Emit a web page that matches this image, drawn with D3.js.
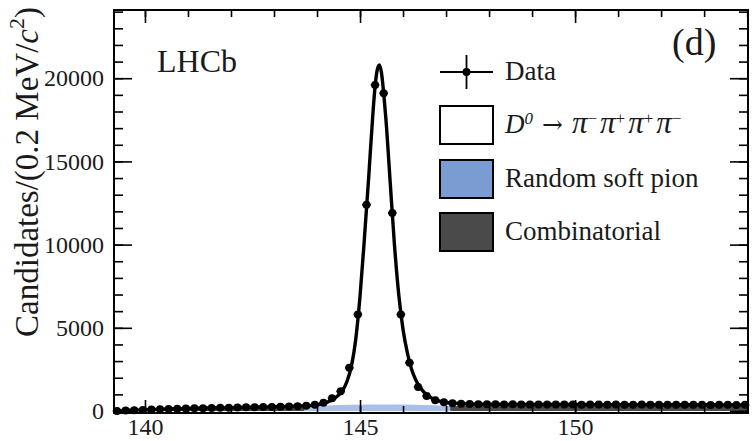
<!DOCTYPE html>
<html>
<head>
<meta charset="utf-8">
<script src="https://cdn.jsdelivr.net/npm/d3@7"></script>
<style>
  html, body { margin: 0; padding: 0; background: #fff; }
  svg { display: block; }
  text { font-family: "Liberation Serif", "Times New Roman", serif; fill: #1a1a1a; }
</style>
</head>
<body>
<svg id="chart" width="755" height="441"></svg>
<script>
// Delta-m histogram: bins of 0.2 MeV/c^2 starting at 139.25
const binStart = 139.25;
const binWidth = 0.2;
const dataCounts = [
  5, 25, 45, 65, 85, 100, 115, 130, 145, 160,
  170, 180, 190, 200, 210, 220, 228, 236, 245, 255,
  270, 290, 320, 380, 490, 760, 1180, 2600, 5800, 12400,
  19600, 19100, 11900, 5800, 2900, 1450, 900, 640, 520, 460,
  430, 420, 410, 405, 400, 395, 400, 390, 395, 385,
  390, 395, 385, 390, 380, 385, 390, 380, 385, 375,
  380, 385, 375, 380, 370, 380, 375, 370, 375, 365,
  375, 370, 365, 370
];

// Total fit model (white signal area outlined in black)
const fitMass = [139.28, 139.4, 139.6, 140, 140.5, 141, 141.5, 142, 142.5, 143, 143.5, 143.8,
  144.0, 144.2, 144.4, 144.6, 144.7, 144.8, 144.9, 145.0, 145.1, 145.2, 145.3, 145.35, 145.4,
  145.45, 145.5, 145.55, 145.6, 145.7, 145.8, 145.9, 146.0, 146.1, 146.2, 146.3, 146.4, 146.6,
  146.8, 147.0, 147.3, 147.6, 148, 149, 150, 151, 152, 153, 154.02];
const fitTotal = [0, 15, 45, 75, 120, 155, 185, 205, 230, 255, 290, 320,
  370, 490, 750, 1250, 1800, 2700, 4300, 6900, 10300, 14000, 17900, 19500, 20500,
  20800, 20300, 19100, 17600, 13800, 10000, 7000, 4900, 3500, 2500, 1850, 1400, 880,
  630, 510, 450, 425, 405, 395, 388, 382, 377, 372, 368];

// Combinatorial background component
const combMass = [139.28, 139.4, 139.6, 140, 140.5, 141, 142, 143, 144, 145, 146, 147, 148, 150, 152, 154.02];
const combYield = [0, 10, 35, 60, 95, 125, 165, 200, 230, 255, 275, 290, 300, 305, 305, 300];

// Random soft pion component (drawn up to the stacked total)
const rspMass = [143.7, 144.0, 144.5, 145.0, 145.4, 146.0, 146.5, 146.9, 147.1];
const rspStackTop = [230, 300, 360, 380, 390, 390, 360, 320, 290];

const xTicksMajor = [140, 145, 150];
const yTicksMajor = [0, 5000, 10000, 15000, 20000];

const legendItems = ["Data", "D0", "Random soft pion", "Combinatorial"];

const svg = d3.select("#chart");
const plotL = 114, plotR = 748, plotT = 10, plotB = 413;

const x = d3.scaleLinear().domain([139.28, 154.02]).range([plotL, plotR]);
const y = d3.scaleLinear().domain([-120, 24100]).range([plotB, plotT]);

const binCenters = dataCounts.map((_, i) => binStart + binWidth * (i + 0.5));

// Total fit: white area with black outline
const fitPts = fitMass.map((m, i) => [m, fitTotal[i]]);
svg.append("path")
  .datum(fitPts)
  .attr("fill", "#ffffff")
  .attr("d", d3.area().x(d => x(d[0])).y0(y(0)).y1(d => y(d[1])).curve(d3.curveMonotoneX));

// Combinatorial
svg.append("path")
  .datum(combMass.map((m, i) => [m, combYield[i]]))
  .attr("fill", "#4a4a4a")
  .attr("d", d3.area().x(d => x(d[0])).y0(y(0)).y1(d => y(d[1])).curve(d3.curveMonotoneX));

// Random soft pion
svg.append("path")
  .datum(rspMass.map((m, i) => [m, rspStackTop[i]]))
  .attr("fill", "#a9bfe8")
  .attr("d", d3.area().x(d => x(d[0])).y0(y(0)).y1(d => y(d[1])).curve(d3.curveMonotoneX));

// Fit line
svg.append("path")
  .datum(fitPts)
  .attr("fill", "none")
  .attr("stroke", "#000")
  .attr("stroke-width", 3.4)
  .attr("stroke-linejoin", "round")
  .attr("d", d3.line().x(d => x(d[0])).y(d => y(d[1])).curve(d3.curveMonotoneX));

// Data points with error bars
const dataG = svg.append("g");
dataCounts.forEach((n, i) => {
  const c = binCenters[i];
  const err = Math.sqrt(n);
  dataG.append("line")
    .attr("x1", x(c - binWidth / 2)).attr("x2", x(c + binWidth / 2))
    .attr("y1", y(n)).attr("y2", y(n))
    .attr("stroke", "#000").attr("stroke-width", 1.8);
  dataG.append("line")
    .attr("x1", x(c)).attr("x2", x(c))
    .attr("y1", y(n - err)).attr("y2", y(n + err))
    .attr("stroke", "#000").attr("stroke-width", 1.8);
  dataG.append("circle")
    .attr("cx", x(c)).attr("cy", y(n)).attr("r", 4)
    .attr("fill", "#000");
});

// Axes: ticks pointing inwards on all four sides
const fontSize = 24;
const xMinor = d3.range(140, 155, 1);
const yMinor = d3.range(0, 24001, 1000);

function styleAxis(g) {
  g.select(".domain").remove();
  g.selectAll(".tick line").attr("stroke", "#000").attr("stroke-width", 1.6);
  g.selectAll(".tick text")
    .style("font-family", '"Liberation Serif", "Times New Roman", serif')
    .style("font-size", fontSize + "px")
    .attr("fill", "#1a1a1a");
}

svg.append("g").attr("transform", `translate(0,${plotB})`)
  .call(d3.axisBottom(x).tickValues(xMinor).tickSize(-7).tickFormat(""))
  .call(styleAxis);
svg.append("g").attr("transform", `translate(0,${plotB})`)
  .call(d3.axisBottom(x).tickValues(xTicksMajor).tickSize(-13).tickPadding(5).tickFormat(d3.format("d")))
  .call(styleAxis);
svg.append("g").attr("transform", `translate(0,${plotT})`)
  .call(d3.axisTop(x).tickValues(xMinor).tickSize(-7).tickFormat(""))
  .call(styleAxis);
svg.append("g").attr("transform", `translate(0,${plotT})`)
  .call(d3.axisTop(x).tickValues(xTicksMajor).tickSize(-13).tickFormat(""))
  .call(styleAxis);

svg.append("g").attr("transform", `translate(${plotL},0)`)
  .call(d3.axisLeft(y).tickValues(yMinor).tickSize(-9).tickFormat(""))
  .call(styleAxis);
svg.append("g").attr("transform", `translate(${plotL},0)`)
  .call(d3.axisLeft(y).tickValues(yTicksMajor).tickSize(-18).tickPadding(10).tickFormat(d3.format("d")))
  .call(styleAxis);
svg.append("g").attr("transform", `translate(${plotR},0)`)
  .call(d3.axisRight(y).tickValues(yMinor).tickSize(-9).tickFormat(""))
  .call(styleAxis);
svg.append("g").attr("transform", `translate(${plotR},0)`)
  .call(d3.axisRight(y).tickValues(yTicksMajor).tickSize(-18).tickFormat(""))
  .call(styleAxis);

// Frame
svg.append("rect")
  .attr("x", plotL).attr("y", plotT)
  .attr("width", plotR - plotL).attr("height", plotB - plotT)
  .attr("fill", "none").attr("stroke", "#000").attr("stroke-width", 2);

// Y axis title
const yTitle = svg.append("text")
  .attr("transform", "translate(38,7) rotate(-90)")
  .attr("text-anchor", "end")
  .style("font-size", "33px")
  .attr("fill", "#333");
yTitle.append("tspan").text("Candidates/(0.2 MeV/");
yTitle.append("tspan").attr("font-style", "italic").text("c");
yTitle.append("tspan").attr("dy", -14).style("font-size", "22px").text("2");
yTitle.append("tspan").attr("dy", 14).text(")");

// LHCb label and panel tag
svg.append("text").attr("x", 157).attr("y", 72).style("font-size", "32px").text("LHCb");
svg.append("text").attr("x", 672).attr("y", 55).style("font-size", "38px").text("(d)");

// Legend
const lgX = 440, lgW = 53, lgH = 38, txtX = 505;
const rowY = [72, 125, 179, 232];
const lg = svg.append("g");

lg.append("line").attr("x1", lgX).attr("x2", lgX + lgW).attr("y1", rowY[0]).attr("y2", rowY[0])
  .attr("stroke", "#000").attr("stroke-width", 1.8);
lg.append("line").attr("x1", lgX + lgW / 2).attr("x2", lgX + lgW / 2).attr("y1", rowY[0] - 17).attr("y2", rowY[0] + 17)
  .attr("stroke", "#000").attr("stroke-width", 1.8);
lg.append("circle").attr("cx", lgX + lgW / 2).attr("cy", rowY[0]).attr("r", 4).attr("fill", "#000");

const boxFills = [null, "#ffffff", "#7b9bd3", "#4a4a4a"];
for (let i = 1; i < 4; i++) {
  lg.append("rect").attr("x", lgX).attr("y", rowY[i] - lgH / 2)
    .attr("width", lgW).attr("height", lgH)
    .attr("fill", boxFills[i]).attr("stroke", "#000").attr("stroke-width", 2);
}

const lgText = (i) => lg.append("text").attr("x", txtX).attr("y", rowY[i] + 8).style("font-size", "27px");
lgText(0).text(legendItems[0]);

// D0 -> pi- pi+ pi+ pi-
const decay = lgText(1);
const sup = 9;
decay.append("tspan").attr("font-style", "italic").text("D");
decay.append("tspan").attr("font-style", "italic").attr("dy", -sup).style("font-size", "17px").text("0");
decay.append("tspan").attr("dy", sup).attr("dx", 9)
  .style("font-family", '"DejaVu Serif", serif').style("font-size", "25px").text("\u2192");
const pis = ["\u2212", "+", "+", "\u2212"];
pis.forEach((s, k) => {
  const p = decay.append("tspan").attr("font-style", "italic").style("font-size", "31px")
    .attr("dx", k === 0 ? 9 : 3).text("\u03c0");
  if (k > 0) p.attr("dy", sup);
  decay.append("tspan").attr("dy", -sup).style("font-size", "17px").text(s);
});
lgText(2).text(legendItems[2]);
lgText(3).text(legendItems[3]);
</script>
</body>
</html>
